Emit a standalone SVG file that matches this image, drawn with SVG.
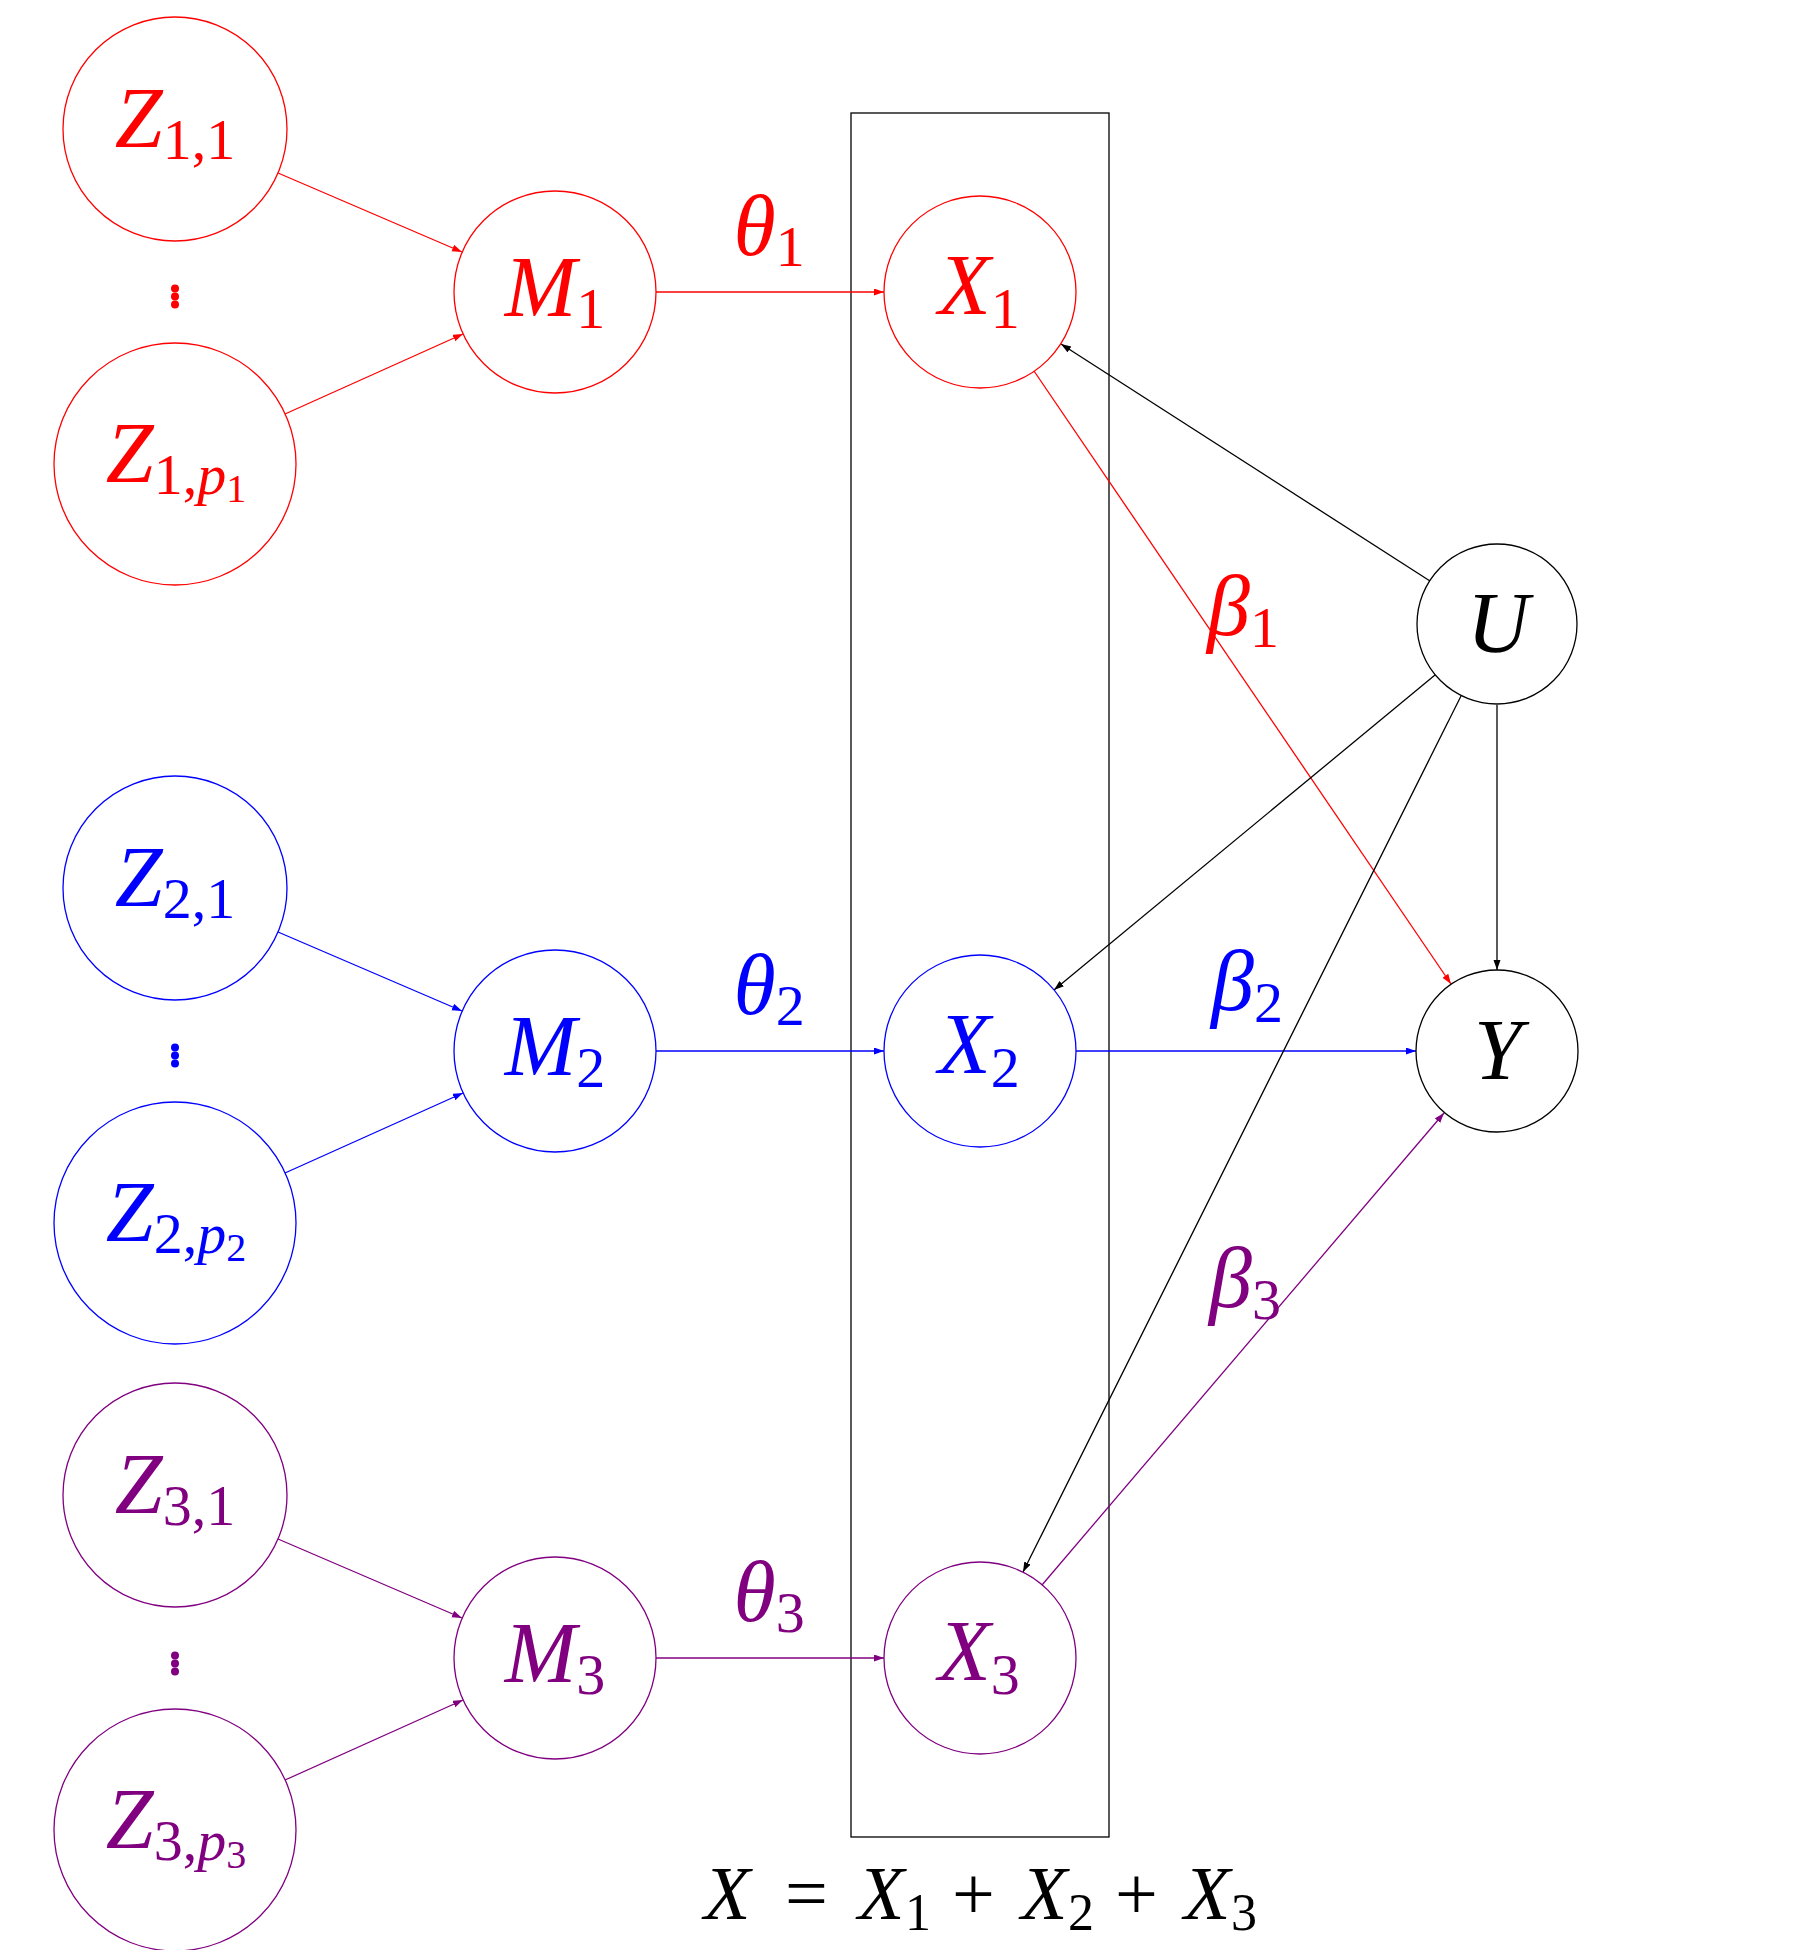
<svg xmlns="http://www.w3.org/2000/svg" width="1797" height="1950" viewBox="0 0 1797 1950">
<style>
.n{fill:none;stroke-width:1.3}
.e{fill:none;stroke-width:1.3}
.red{stroke:#ff0000}
.blue{stroke:#0000ff}
.pur{stroke:#800080}
.blk{stroke:#000000}
text{font-family:"Liberation Serif","DejaVu Serif",serif;font-style:italic;font-size:86px;text-anchor:middle}
.tr{fill:#ff0000}
.tb{fill:#0000ff}
.tp{fill:#800080}
.tk{fill:#000000}
.s{font-size:58px;font-style:normal}
.si{font-size:58px}
.ss{font-size:40px;font-style:normal}
.fs{font-size:52px;font-style:normal}
</style>
<defs>
<marker id="ar" markerUnits="userSpaceOnUse" markerWidth="11" markerHeight="8" refX="10" refY="3.5" orient="auto"><path d="M0,0 L10,3.5 L0,7 z" fill="#ff0000"/></marker>
<marker id="ab" markerUnits="userSpaceOnUse" markerWidth="11" markerHeight="8" refX="10" refY="3.5" orient="auto"><path d="M0,0 L10,3.5 L0,7 z" fill="#0000ff"/></marker>
<marker id="ap" markerUnits="userSpaceOnUse" markerWidth="11" markerHeight="8" refX="10" refY="3.5" orient="auto"><path d="M0,0 L10,3.5 L0,7 z" fill="#800080"/></marker>
<marker id="ak" markerUnits="userSpaceOnUse" markerWidth="11" markerHeight="8" refX="10" refY="3.5" orient="auto"><path d="M0,0 L10,3.5 L0,7 z" fill="#000000"/></marker>
</defs>
<rect width="1797" height="1950" fill="#ffffff"/>
<rect id="plate" x="851" y="113" width="258" height="1724" fill="none" stroke="#000" stroke-width="1.3"/>

<g id="connectors">
<line class="e red" x1="278" y1="173" x2="462" y2="252" marker-end="url(#ar)"/>
<line class="e red" x1="285" y1="414" x2="463" y2="334" marker-end="url(#ar)"/>
<line class="e red" x1="656" y1="292" x2="884" y2="292" marker-end="url(#ar)"/>
<line class="e red" x1="1034" y1="371" x2="1451" y2="984" marker-end="url(#ar)"/>
<line class="e blue" x1="278" y1="932" x2="462" y2="1011" marker-end="url(#ab)"/>
<line class="e blue" x1="285" y1="1173" x2="463" y2="1093" marker-end="url(#ab)"/>
<line class="e blue" x1="656" y1="1051" x2="884" y2="1051" marker-end="url(#ab)"/>
<line class="e blue" x1="1076" y1="1051" x2="1416" y2="1051" marker-end="url(#ab)"/>
<line class="e pur" x1="278" y1="1539" x2="462" y2="1618" marker-end="url(#ap)"/>
<line class="e pur" x1="285" y1="1780" x2="463" y2="1700" marker-end="url(#ap)"/>
<line class="e pur" x1="656" y1="1658" x2="884" y2="1658" marker-end="url(#ap)"/>
<line class="e pur" x1="1042" y1="1585" x2="1444" y2="1113" marker-end="url(#ap)"/>
<line class="e blk" x1="1430" y1="581" x2="1061" y2="344" marker-end="url(#ak)"/>
<line class="e blk" x1="1435" y1="675" x2="1054" y2="990" marker-end="url(#ak)"/>
<line class="e blk" x1="1461" y1="696" x2="1023" y2="1572" marker-end="url(#ak)"/>
<line class="e blk" x1="1497" y1="705" x2="1497" y2="970" marker-end="url(#ak)"/>
</g>

<g id="edge-labels">
<text class="tr" x="769" y="255">θ<tspan class="s" dy="11">1</tspan></text>
<text class="tb" x="769" y="1014">θ<tspan class="s" dy="11">2</tspan></text>
<text class="tp" x="769" y="1621">θ<tspan class="s" dy="11">3</tspan></text>
<text class="tr" x="1243" y="635">β<tspan class="s" dy="12">1</tspan></text>
<text class="tb" x="1247" y="1010">β<tspan class="s" dy="12">2</tspan></text>
<text class="tp" x="1245" y="1307">β<tspan class="s" dy="12">3</tspan></text>
</g>

<g id="dots1" fill="#ff0000"><circle cx="175" cy="288.5" r="4"/><circle cx="175" cy="296.5" r="4"/><circle cx="175" cy="304.5" r="4"/></g>
<g id="dots2" fill="#0000ff"><circle cx="175" cy="1047.5" r="4"/><circle cx="175" cy="1055.5" r="4"/><circle cx="175" cy="1063.5" r="4"/></g>
<g id="dots3" fill="#800080"><circle cx="175" cy="1655.5" r="4"/><circle cx="175" cy="1663.5" r="4"/><circle cx="175" cy="1671.5" r="4"/></g>

<g id="Z11"><circle class="n red" cx="175" cy="129" r="112"/><text class="tr" x="175" y="147">Z<tspan class="s" dy="12">1,1</tspan></text></g>
<g id="Z1p1"><circle class="n red" cx="175" cy="464" r="121"/><text class="tr" x="176" y="482">Z<tspan class="s" dy="12">1,</tspan><tspan class="si">p</tspan><tspan class="ss" dy="8">1</tspan></text></g>
<g id="M1"><circle class="n red" cx="555" cy="292" r="101"/><text class="tr" x="555" y="316">M<tspan class="s" dy="12">1</tspan></text></g>
<g id="X1"><circle class="n red" cx="980" cy="292" r="96"/><text class="tr" x="979" y="314">X<tspan class="s" dy="14">1</tspan></text></g>

<g id="Z21"><circle class="n blue" cx="175" cy="888" r="112"/><text class="tb" x="175" y="906">Z<tspan class="s" dy="12">2,1</tspan></text></g>
<g id="Z2p2"><circle class="n blue" cx="175" cy="1223" r="121"/><text class="tb" x="176" y="1241">Z<tspan class="s" dy="12">2,</tspan><tspan class="si">p</tspan><tspan class="ss" dy="8">2</tspan></text></g>
<g id="M2"><circle class="n blue" cx="555" cy="1051" r="101"/><text class="tb" x="555" y="1075">M<tspan class="s" dy="12">2</tspan></text></g>
<g id="X2"><circle class="n blue" cx="980" cy="1051" r="96"/><text class="tb" x="979" y="1073">X<tspan class="s" dy="14">2</tspan></text></g>

<g id="Z31"><circle class="n pur" cx="175" cy="1495" r="112"/><text class="tp" x="175" y="1513">Z<tspan class="s" dy="12">3,1</tspan></text></g>
<g id="Z3p3"><circle class="n pur" cx="175" cy="1830" r="121"/><text class="tp" x="176" y="1848">Z<tspan class="s" dy="12">3,</tspan><tspan class="si">p</tspan><tspan class="ss" dy="8">3</tspan></text></g>
<g id="M3"><circle class="n pur" cx="555" cy="1658" r="101"/><text class="tp" x="555" y="1682">M<tspan class="s" dy="12">3</tspan></text></g>
<g id="X3"><circle class="n pur" cx="980" cy="1658" r="96"/><text class="tp" x="979" y="1680">X<tspan class="s" dy="14">3</tspan></text></g>

<g id="U"><circle class="n blk" cx="1497" cy="624" r="80"/><text class="tk" x="1498" y="652">U</text></g>
<g id="Y"><circle class="n blk" cx="1497" cy="1051" r="81"/><text class="tk" x="1498" y="1079">Y</text></g>

<g id="formula">
<text class="tk" style="text-anchor:start;font-size:76px" x="704" y="1919">X<tspan x="785" font-style="normal">=</tspan><tspan x="858">X</tspan><tspan class="fs" x="905" dy="11">1</tspan><tspan x="952" dy="-11" font-style="normal">+</tspan><tspan x="1021">X</tspan><tspan class="fs" x="1068" dy="11">2</tspan><tspan x="1115" dy="-11" font-style="normal">+</tspan><tspan x="1184">X</tspan><tspan class="fs" x="1231" dy="11">3</tspan></text>
</g>
</svg>
